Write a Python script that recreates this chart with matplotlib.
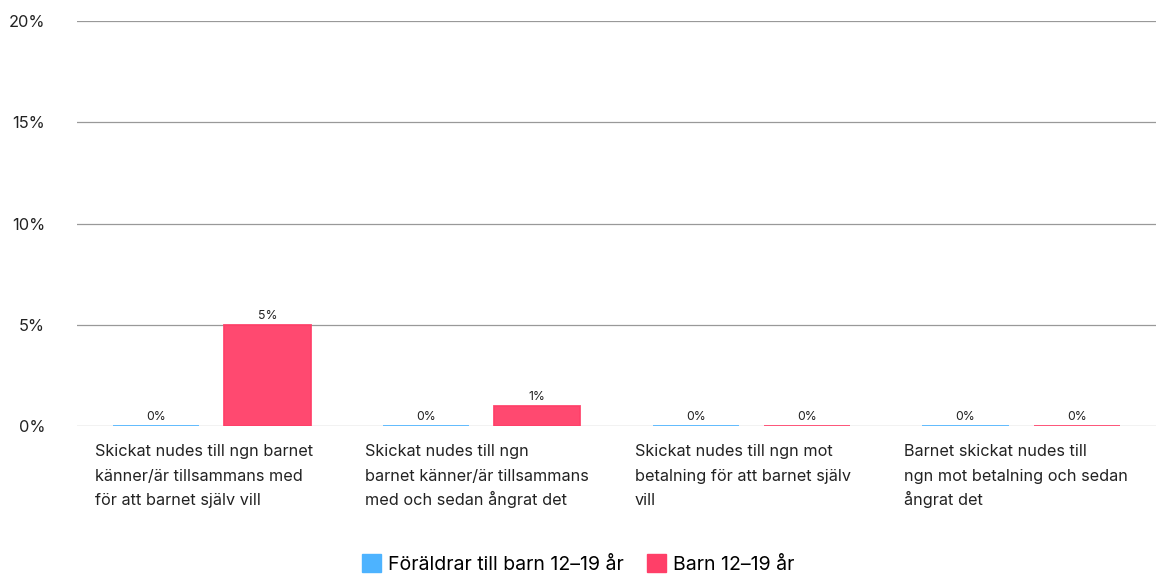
import matplotlib
matplotlib.use("Agg")
import matplotlib.pyplot as plt
import numpy as np
from matplotlib.transforms import offset_copy

categories = [
    "Skickat nudes till ngn barnet\nkänner/är tillsammans med\nför att barnet själv vill",
    "Skickat nudes till ngn\nbarnet känner/är tillsammans\nmed och sedan ångrat det",
    "Skickat nudes till ngn mot\nbetalning för att barnet själv\nvill",
    "Barnet skickat nudes till\nngn mot betalning och sedan\nångrat det",
]
series_names = ["Föräldrar till barn 12–19 år", "Barn 12–19 år"]
foraldrar = [0, 0, 0, 0]
barn = [5, 1, 0, 0]
yticks = [0, 5, 10, 15, 20]

colors = ["#4DB3FF", "#FF3F68"]

plt.rcParams['font.family'] = ['Inter', 'DejaVu Sans']

fig = plt.figure(figsize=(11.56, 5.74), dpi=100)
ax = fig.add_axes([0.0666, 0.2578, 0.9334, 0.7056])

x = np.arange(len(categories))
w = 0.32
off = 0.206
for vals, c, o in [(foraldrar, colors[0], -off), (barn, colors[1], off)]:
    ax.bar(x + o, vals, width=w, color=c, edgecolor=c, linewidth=1.3, alpha=0.95, zorder=3)
    for xi, v in zip(x + o, vals):
        ax.text(xi, v + 0.15, f"{v}%", ha="center", va="bottom", fontsize=8.8, color="#222222", zorder=4)

ax.set_xlim(-0.5, len(categories) - 0.5)
ax.set_ylim(0, 20)
ax.set_yticks(yticks)
ax.set_yticklabels([f"{t}%" for t in yticks], fontsize=11.8, color="#222222")
ax.yaxis.grid(True, color="#999999", linewidth=0.9, zorder=0)
ax.tick_params(axis="y", length=0, pad=23)
for s in ax.spines.values():
    s.set_visible(False)
ax.set_xticks([])
for lbl in ax.get_yticklabels():
    lbl.set_horizontalalignment("right")

line_offsets_px = [30, 54.5, 79]
for xi, cat in zip(x, categories):
    for line, dy in zip(cat.split("\n"), line_offsets_px):
        tr = offset_copy(ax.transData, fig=fig, x=0, y=-dy, units="dots")
        ax.text(xi - 0.5 + 0.067, 0, line, ha="left", va="baseline", fontsize=11.7,
                color="#222222", transform=tr)

handles = [plt.Rectangle((0, 0), 1, 1, color=c) for c in colors]
fig.legend(handles, series_names, loc="lower center", bbox_to_anchor=(0.5, -0.03), ncol=2,
           frameon=False, fontsize=14, handlelength=1.0, handleheight=1.0,
           handletextpad=0.35, columnspacing=1.2)

fig.savefig("out.png", dpi=100)
